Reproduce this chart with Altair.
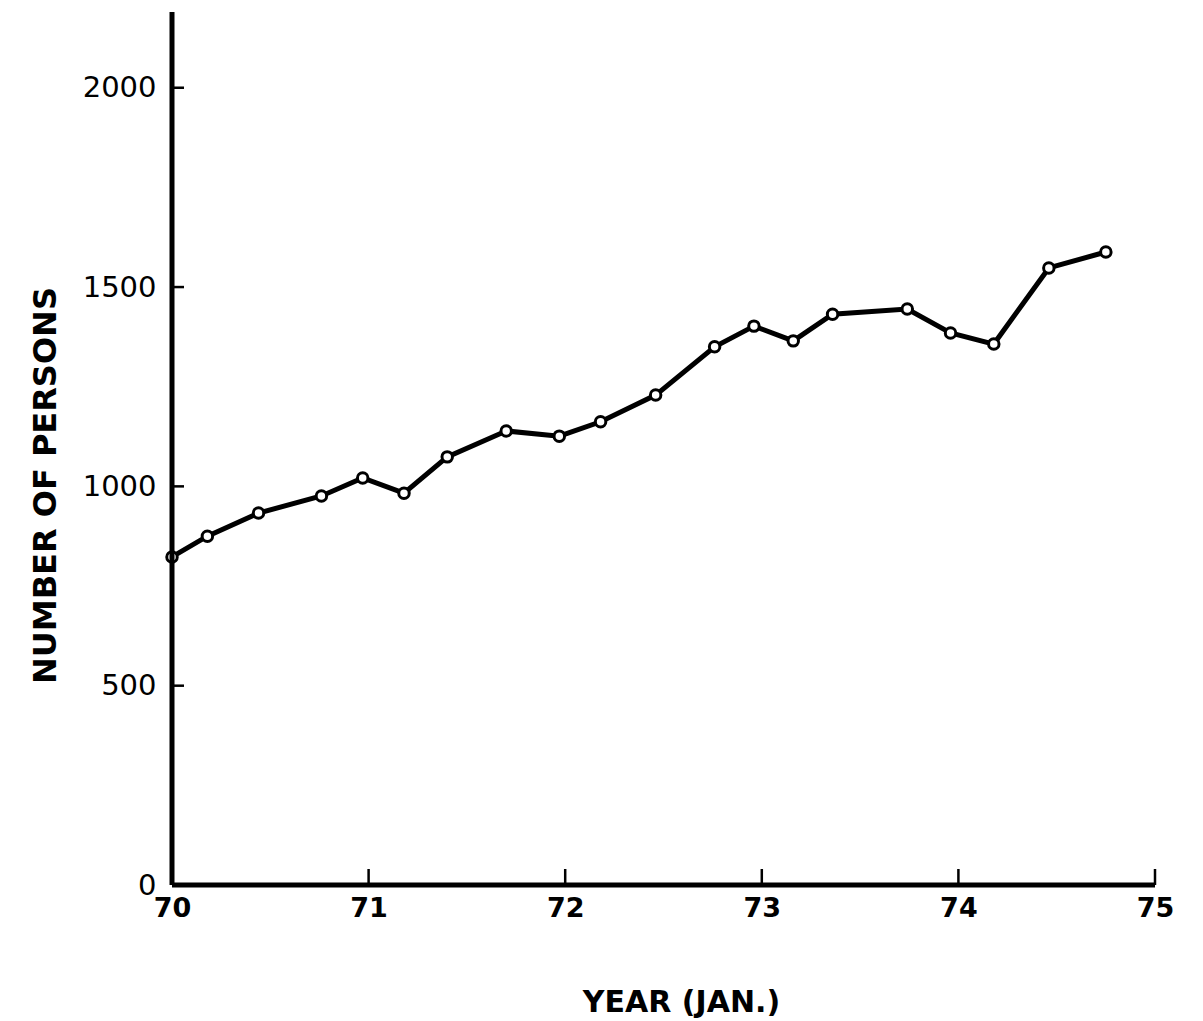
import altair as alt
import pandas as pd

years = [70.0, 70.18, 70.44, 70.76, 70.97, 71.18, 71.40, 71.70, 71.97, 72.18,
         72.46, 72.76, 72.96, 73.16, 73.36, 73.74, 73.96, 74.18, 74.46, 74.75]
persons = [823, 875, 933, 976, 1021, 983, 1074, 1139, 1126, 1162,
           1229, 1350, 1402, 1365, 1432, 1445, 1385, 1357, 1548, 1588]
x_ticks = [70, 71, 72, 73, 74, 75]
y_ticks = [0, 500, 1000, 1500, 2000]
x_domain = [70, 75]
y_domain = [0, 2190]

df = pd.DataFrame({"year": years, "persons": persons})

xs = alt.Scale(domain=x_domain, nice=False, zero=False)
ys = alt.Scale(domain=y_domain, nice=False)

x_axis = alt.Axis(values=x_ticks, format="d", domain=False, grid=False,
                  ticks=False, tickSize=0,
                  labelFont="DejaVu Sans", labelFontSize=27, labelFontWeight="bold",
                  labelColor="black", labelPadding=10, labelFlush=False,
                  title="YEAR (JAN.)", titleFont="DejaVu Sans", titleFontSize=30,
                  titleFontWeight="bold", titleColor="black",
                  titleX=509, titleY=117, titleBaseline="middle", titleAlign="center")
y_axis = alt.Axis(values=y_ticks, format="d", domain=False, grid=False,
                  ticks=False, tickSize=0,
                  labelFont="DejaVu Sans", labelFontSize=29,
                  labelColor="black", labelPadding=16, labelFlush=False,
                  title="NUMBER  OF  PERSONS", titleFont="DejaVu Sans", titleFontSize=32,
                  titleFontWeight="bold", titleColor="black",
                  titleX=-127, titleY=473, titleAngle=270,
                  titleBaseline="middle", titleAlign="center")

base = alt.Chart(df)

line = base.mark_line(color="black", strokeWidth=5).encode(
    x=alt.X("year:Q", scale=xs, axis=x_axis),
    y=alt.Y("persons:Q", scale=ys, axis=y_axis),
)
pts = base.mark_point(shape="circle", size=110, filled=True, fill="white",
                      stroke="black", strokeWidth=3, opacity=1).encode(
    x=alt.X("year:Q", scale=xs),
    y=alt.Y("persons:Q", scale=ys),
)
one = pd.DataFrame({"a": [0]})
vrule = alt.Chart(one).mark_rule(color="black", strokeWidth=5).encode(
    x=alt.datum(x_domain[0], scale=xs),
    y=alt.datum(y_domain[0], scale=ys),
    y2=alt.datum(y_domain[1]),
)
hrule = alt.Chart(one).mark_rule(color="black", strokeWidth=5).encode(
    y=alt.datum(y_domain[0], scale=ys),
    x=alt.datum(x_domain[0], scale=xs),
    x2=alt.datum(x_domain[1]),
)
ytk = alt.Chart(pd.DataFrame({"v": y_ticks[1:]})).mark_rule(
    color="black", strokeWidth=2.5, x2Offset=12
).encode(
    y=alt.Y("v:Q", scale=ys),
    x=alt.datum(x_domain[0], scale=xs),
    x2=alt.datum(x_domain[0]),
)
xtk = alt.Chart(pd.DataFrame({"v": x_ticks[1:]})).mark_rule(
    color="black", strokeWidth=2.5, y2Offset=-16
).encode(
    x=alt.X("v:Q", scale=xs),
    y=alt.datum(y_domain[0], scale=ys),
    y2=alt.datum(y_domain[0]),
)

chart = alt.layer(line, pts, vrule, hrule, ytk, xtk).properties(
    width=983, height=873,
    autosize=alt.AutoSizeParams(type="none"),
    padding={"left": 172, "top": 12, "right": 48, "bottom": 136},
    background="white",
).configure_view(stroke=None)

chart.save("out.html", embed_options={"renderer": "svg", "actions": False})
